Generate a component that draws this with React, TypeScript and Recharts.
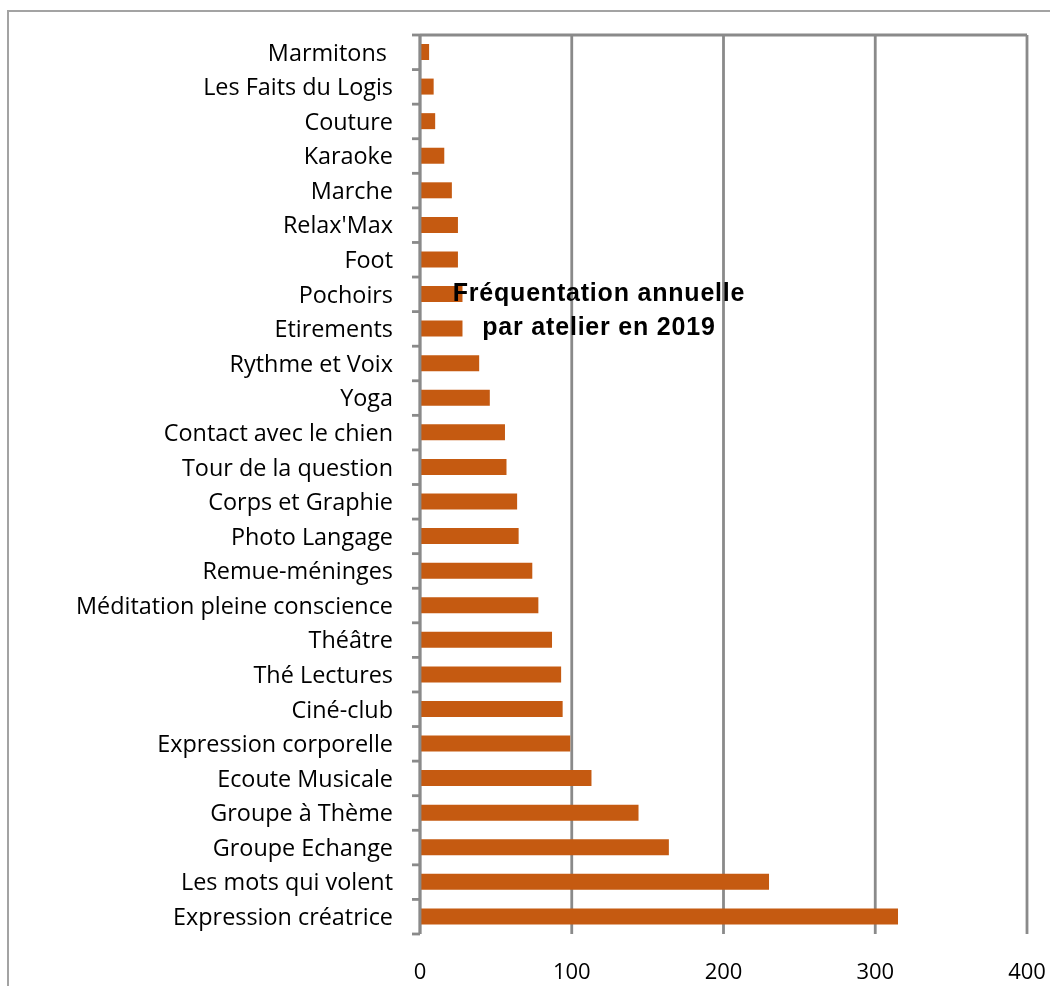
import React from "react";
import { BarChart, Bar, XAxis, YAxis, CartesianGrid } from "recharts";

const categories = [
  "Marmitons ",
  "Les Faits du Logis",
  "Couture",
  "Karaoke",
  "Marche",
  "Relax'Max",
  "Foot",
  "Pochoirs",
  "Etirements",
  "Rythme et Voix",
  "Yoga",
  "Contact avec le chien",
  "Tour de la question",
  "Corps et Graphie",
  "Photo Langage",
  "Remue-méninges",
  "Méditation pleine conscience",
  "Théâtre",
  "Thé Lectures",
  "Ciné-club",
  "Expression corporelle",
  "Ecoute Musicale",
  "Groupe à Thème",
  "Groupe Echange",
  "Les mots qui volent",
  "Expression créatrice",
];
const values = [6, 9, 10, 16, 21, 25, 25, 28, 28, 39, 46, 56, 57, 64, 65, 74, 78, 87, 93, 94, 99, 113, 144, 164, 230, 315];
const xTicks = [0, 100, 200, 300, 400];
const titleLines = ["Fréquentation annuelle", "par atelier en 2019"];

const data = categories.map((name, i) => ({ name, value: values[i] }));

const LINE = "#8a8a8a";
const BAR = "#c55a11";
const Y_TICK_MARGIN = 27;
const Y_TICK_LEN = 8;
const SW = 2.8;

const CategoryTick = (props: any) => {
  const { x, y, payload, index } = props;
  const half = payload && payload.offset ? payload.offset : 17.3;
  const ax = x + Y_TICK_MARGIN;
  return (
    <g>
      <line x1={ax - Y_TICK_LEN} x2={ax} y1={y - half} y2={y - half} stroke={LINE} strokeWidth={SW} />
      {index === categories.length - 1 && (
        <line x1={ax - Y_TICK_LEN} x2={ax} y1={y + half} y2={y + half} stroke={LINE} strokeWidth={SW} />
      )}
      <text
        x={x}
        y={y}
        dy="0.355em"
        textAnchor="end"
        fill="#000"
        fontSize={23.4}
        fontFamily="'Open Sans', sans-serif"
        style={{ whiteSpace: "pre" }}
      >
        {payload.value}
      </text>
    </g>
  );
};

export default function App() {
  return (
    <div>
      <div
        style={{
          position: "fixed",
          left: 7,
          top: 10,
          width: 1200,
          height: 1200,
          borderLeft: "2px solid #a3a3a3",
          borderTop: "2px solid #a3a3a3",
          boxSizing: "border-box",
        }}
      />
      <div style={{ position: "fixed", left: 0, top: 0, width: 1050, height: 986 }}>
        <BarChart
          width={1050}
          height={986}
          data={data}
          layout="vertical"
          margin={{ top: 27, right: 23, bottom: 0, left: 0 }}
        >
          <CartesianGrid horizontal={false} stroke={LINE} strokeWidth={SW} />
          <XAxis
            type="number"
            domain={[0, 400]}
            ticks={xTicks}
            interval={0}
            axisLine={false}
            tickLine={false}
            tickSize={8}
            tickMargin={21}
            height={52}
            tick={{ fill: "#000", fontSize: 22, fontFamily: "'Open Sans', sans-serif" }}
          />
          <XAxis
            xAxisId="top"
            orientation="top"
            type="number"
            domain={[0, 400]}
            ticks={xTicks}
            interval={0}
            height={8}
            tickSize={8}
            tick={false}
            axisLine={{ stroke: LINE, strokeWidth: SW }}
            tickLine={{ stroke: LINE, strokeWidth: SW }}
          />
          <YAxis
            type="category"
            dataKey="name"
            width={420}
            interval={0}
            tickSize={0}
            tickMargin={Y_TICK_MARGIN}
            tickLine={false}
            axisLine={{ stroke: LINE, strokeWidth: SW }}
            tick={<CategoryTick />}
          />
          <Bar dataKey="value" fill={BAR} barSize={16} isAnimationActive={false} />
        </BarChart>
      </div>
      <svg
        width={1050}
        height={986}
        style={{ position: "fixed", left: 0, top: 0, pointerEvents: "none" }}
      >
        {titleLines.map((t, i) => (
          <text
            key={i}
            x={599}
            y={301 + i * 34}
            textAnchor="middle"
            fontFamily="'Liberation Sans', Arial, sans-serif"
            fontWeight="bold"
            fontSize={25}
            letterSpacing={0.8}
            fill="#000"
          >
            {t}
          </text>
        ))}
      </svg>
    </div>
  );
}
